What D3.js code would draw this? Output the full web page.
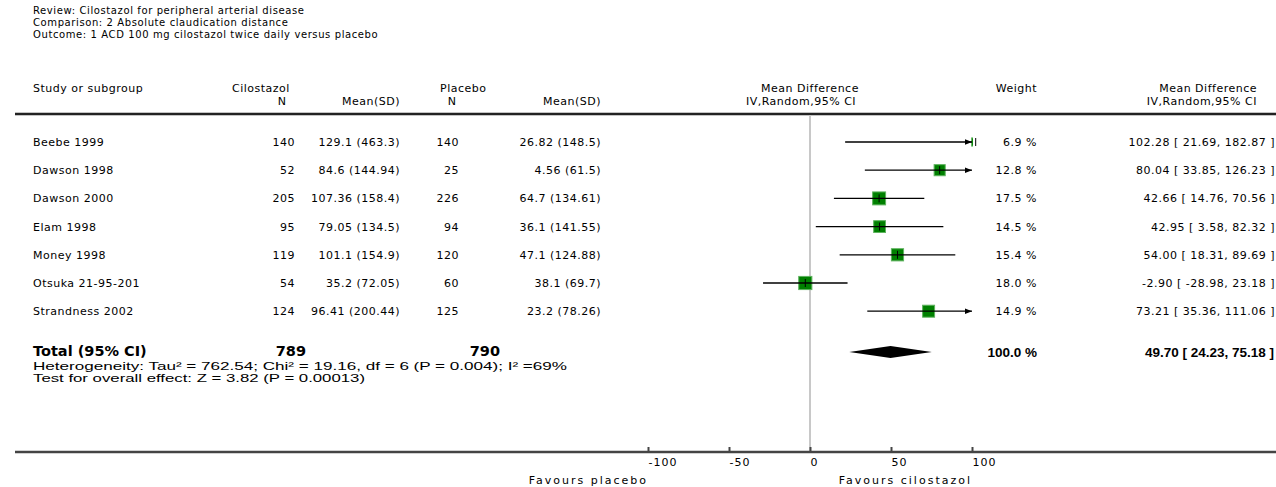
<!DOCTYPE html>
<meta charset="utf-8">
<script src="https://d3js.org/d3.v7.min.js"></script>
<style>
    body { margin: 0; background: #fff; }
    text { font-family: "DejaVu Sans", sans-serif; fill: #000; }
    .title { font-size: 10px; letter-spacing: 0.6px; }
    .hdr { font-size: 11px; letter-spacing: 0.5px; }
    .row { font-size: 11px; letter-spacing: 0.5px; }
    .fav { font-size: 11px; letter-spacing: 2px; }
    .tot { font-size: 14.5px; font-weight: bold; }
    .totr { font-family: "Liberation Sans", sans-serif; font-size: 13.5px; font-weight: bold; }
    .het { font-family: "Liberation Sans", sans-serif; font-size: 11.5px; }
    .tick text { font-family: "DejaVu Sans", sans-serif; font-size: 11px; letter-spacing: 1px; }
</style>
<div id="chart"></div>
<script>

    // study data
    const studies = ["Beebe 1999", "Dawson 1998", "Dawson 2000", "Elam 1998", "Money 1998", "Otsuka 21-95-201", "Strandness 2002"]
    const cilN    = [140, 52, 205, 95, 119, 54, 124]
    const cilMean = ["129.1", "84.6", "107.36", "79.05", "101.1", "35.2", "96.41"]
    const cilSD   = ["463.3", "144.94", "158.4", "134.5", "154.9", "72.05", "200.44"]
    const plaN    = [140, 25, 226, 94, 120, 60, 125]
    const plaMean = ["26.82", "4.56", "64.7", "36.1", "47.1", "38.1", "23.2"]
    const plaSD   = ["148.5", "61.5", "134.61", "141.55", "124.88", "69.7", "78.26"]
    const weights = [6.9, 12.8, 17.5, 14.5, 15.4, 18.0, 14.9]
    const md      = [102.28, 80.04, 42.66, 42.95, 54.00, -2.90, 73.21]
    const ciLo    = [21.69, 33.85, 14.76, 3.58, 18.31, -28.98, 35.36]
    const ciHi    = [182.87, 126.23, 70.56, 82.32, 89.69, 23.18, 111.06]

    // pooled result
    const total = {cilN: 789, plaN: 790, weight: 100.0, md: 49.70, lo: 24.23, hi: 75.18}
    const axisTicks = [-100, -50, 0, 50, 100]

    const titles = ["Review:  Cilostazol for peripheral arterial disease",
                    "Comparison:  2 Absolute claudication distance",
                    "Outcome:  1 ACD 100 mg cilostazol twice daily versus placebo"]
    const hetText  = "Heterogeneity: Tau² = 762.54; Chi² = 19.16, df = 6 (P = 0.004); I² =69%"
    const testText = "Test for overall effect: Z = 3.82 (P = 0.00013)"

    const W = 1276, H = 487
    const svg = d3.select("#chart").append("svg")
        .attr("width", W).attr("height", H)

    const x = d3.scaleLinear().domain([-100, 100]).range([648, 972])
    const y = d3.scaleLinear().domain([0, 1]).range([142, 170.2])
    const axisY = 452, lineTop = 115, totalY = 352

    // titles
    svg.selectAll(".title").data(titles).join("text")
        .attr("class", "title")
        .attr("x", 33).attr("y", (d, i) => 14 + i * 12)
        .text(d => d)

    // headers
    const hdr = [
        ["Study or subgroup", 33, 92, "start"],
        ["Cilostazol", 232, 92, "start"],
        ["N", 282, 105, "middle"],
        ["Mean(SD)", 400, 105, "end"],
        ["Placebo", 440, 92, "start"],
        ["N", 452, 105, "middle"],
        ["Mean(SD)", 601, 105, "end"],
        ["Mean Difference", 810, 92, "middle"],
        ["IV,Random,95% CI", 801, 105, "middle"],
        ["Weight", 1037, 92, "end"],
        ["Mean Difference", 1257, 92, "end"],
        ["IV,Random,95% CI", 1257, 105, "end"]
    ]
    svg.selectAll(".hdr").data(hdr).join("text")
        .attr("class", "hdr")
        .attr("x", d => d[1]).attr("y", d => d[2])
        .attr("text-anchor", d => d[3])
        .text(d => d[0])

    // header rule
    svg.append("line").attr("x1", 15).attr("x2", W).attr("y1", 114).attr("y2", 114)
        .attr("stroke", "#888").attr("stroke-width", 3)
    svg.append("line").attr("x1", 15).attr("x2", W).attr("y1", 114).attr("y2", 114)
        .attr("stroke", "#000").attr("stroke-width", 1.5)

    // zero line
    svg.append("line").attr("x1", x(0)).attr("x2", x(0)).attr("y1", lineTop).attr("y2", axisY)
        .attr("stroke", "#c8c8c8").attr("stroke-width", 2)

    // table rows
    const cols = [
        [i => studies[i], 33, "start"],
        [i => cilN[i], 295, "end"],
        [i => `${cilMean[i]} (${cilSD[i]})`, 400, "end"],
        [i => plaN[i], 459, "end"],
        [i => `${plaMean[i]} (${plaSD[i]})`, 601, "end"],
        [i => weights[i].toFixed(1) + " %", 1037, "end"],
        [i => `${md[i].toFixed(2)} [ ${ciLo[i].toFixed(2)}, ${ciHi[i].toFixed(2)} ]`, 1275, "end"]
    ]
    studies.forEach(function(s, i) {
        cols.forEach(function(c) {
            svg.append("text").attr("class", "row")
                .attr("x", c[1]).attr("y", y(i) + 4)
                .attr("text-anchor", c[2])
                .text(c[0](i))
        })
    })

    // clip for the forest marks
    svg.append("clipPath").attr("id", "plotclip")
        .append("rect").attr("x", x(-100) - 1).attr("y", lineTop).attr("width", x(100) - x(-100) + 2).attr("height", axisY - lineTop)

    svg.append("defs").append("marker")
        .attr("id", "arrow").attr("viewBox", "0 0 10 10")
        .attr("refX", 10).attr("refY", 5)
        .attr("markerWidth", 7).attr("markerHeight", 7)
        .attr("markerUnits", "userSpaceOnUse")
        .attr("orient", "auto")
        .append("path").attr("d", "M0,1L10,5L0,9Z").attr("fill", "#000")

    const plot = svg.append("g")

    // weighted squares
    const side = w => 3.1 * Math.sqrt(w)
    plot.append("g").attr("clip-path", "url(#plotclip)")
        .selectAll("rect").data(studies).join("rect")
        .attr("x", (d, i) => x(md[i]) - side(weights[i]) / 2)
        .attr("y", (d, i) => y(i) - side(weights[i]) / 2)
        .attr("width", (d, i) => side(weights[i]))
        .attr("height", (d, i) => side(weights[i]))
        .attr("fill", "#008000").attr("stroke", "#5fb35f").attr("stroke-width", 1)

    // confidence intervals
    plot.selectAll(".ci").data(studies).join("line")
        .attr("class", "ci")
        .attr("x1", (d, i) => x(Math.max(-100, ciLo[i])))
        .attr("x2", (d, i) => x(Math.min(100, ciHi[i])))
        .attr("y1", (d, i) => y(i)).attr("y2", (d, i) => y(i))
        .attr("stroke", "#000").attr("stroke-width", 1.3)
        .attr("marker-end", (d, i) => ciHi[i] > 100 ? "url(#arrow)" : null)

    plot.selectAll(".mid").data(studies).join("line")
        .attr("class", "mid")
        .filter((d, i) => md[i] <= 100)
        .attr("x1", (d, i) => x(md[i])).attr("x2", (d, i) => x(md[i]))
        .attr("y1", (d, i) => y(i) - 4).attr("y2", (d, i) => y(i) + 4)
        .attr("stroke", "#000").attr("stroke-width", 1)

    // total row
    svg.append("text").attr("class", "tot").attr("x", 33).attr("y", totalY + 4).text("Total (95% CI)")
    svg.append("text").attr("class", "tot").attr("x", 306).attr("y", totalY + 4).attr("text-anchor", "end").text(total.cilN)
    svg.append("text").attr("class", "tot").attr("x", 500).attr("y", totalY + 4).attr("text-anchor", "end").text(total.plaN)
    svg.append("text").attr("class", "totr").attr("x", 1037).attr("y", totalY + 5).attr("text-anchor", "end")
        .text(total.weight.toFixed(1) + " %")
    svg.append("text").attr("class", "totr").attr("x", 1274).attr("y", totalY + 5).attr("text-anchor", "end")
        .text(`${total.md.toFixed(2)} [ ${total.lo.toFixed(2)}, ${total.hi.toFixed(2)} ]`)

    svg.append("path")
        .attr("d", `M${x(total.lo)},${totalY}L${x(total.md)},${totalY - 6}L${x(total.hi)},${totalY}L${x(total.md)},${totalY + 6}Z`)
        .attr("fill", "#000")

    svg.append("text").attr("class", "het").attr("x", 33).attr("y", 370)
        .attr("textLength", 534).attr("lengthAdjust", "spacingAndGlyphs").text(hetText)
    svg.append("text").attr("class", "het").attr("x", 33).attr("y", 382)
        .attr("textLength", 332).attr("lengthAdjust", "spacingAndGlyphs").text(testText)

    // bottom axis
    svg.append("line").attr("x1", 15).attr("x2", W).attr("y1", axisY).attr("y2", axisY)
        .attr("stroke", "#444").attr("stroke-width", 2.5)

    const ax = svg.append("g").attr("transform", `translate(0,${axisY})`)
        .call(d3.axisBottom(x).tickValues(axisTicks).tickSize(-5).tickPadding(4).tickFormat(d => String(d)))
    ax.select(".domain").remove()
    ax.selectAll(".tick line").attr("stroke", "#444").attr("stroke-width", 2)
    ax.selectAll(".tick text").attr("text-anchor", "start").attr("fill", "#000")
        .attr("dy", "0.9em")

    svg.append("text").attr("class", "fav").attr("x", x(-100)).attr("y", 484).attr("text-anchor", "end").text("Favours placebo")
    svg.append("text").attr("class", "fav").attr("x", x(100)).attr("y", 484).attr("text-anchor", "end").text("Favours cilostazol")

</script>
